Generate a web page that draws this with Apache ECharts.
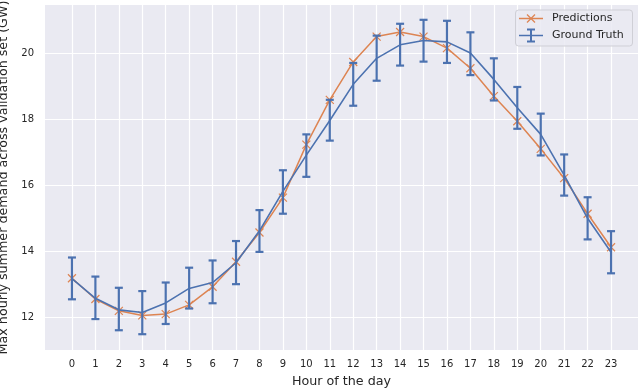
<!DOCTYPE html>
<html>
<head>
<meta charset="utf-8">
<script src="https://cdn.jsdelivr.net/npm/echarts@6/dist/echarts.min.js"></script>
<style>html,body{margin:0;padding:0;background:#fff}#c{width:640px;height:390px}</style>
</head>
<body>
<div id="c"></div>
<script>
var hours = [0,1,2,3,4,5,6,7,8,9,10,11,12,13,14,15,16,17,18,19,20,21,22,23];
var predictions = [13.18,12.55,12.19,12.05,12.09,12.37,12.92,13.68,14.57,15.63,17.24,18.6,19.75,20.52,20.66,20.52,20.17,19.56,18.71,17.95,17.11,16.22,15.14,14.12];
var groundTruth = [13.17,12.57,12.22,12.14,12.43,12.87,13.05,13.65,14.62,15.82,16.92,17.97,19.07,19.86,20.27,20.4,20.36,20.02,19.22,18.36,17.55,16.31,15.0,13.97];
var truthLower = [12.54,11.94,11.6,11.48,11.79,12.26,12.42,13.0,13.98,15.14,16.26,17.36,18.42,19.18,19.64,19.76,19.72,19.35,18.58,17.72,16.91,15.69,14.36,13.33];
var truthUpper = [13.81,13.23,12.89,12.79,13.05,13.5,13.72,14.31,15.25,16.46,17.55,18.6,19.72,20.55,20.91,21.03,21.0,20.65,19.86,18.99,18.18,16.94,15.64,14.61];
var xTicks = hours;
var yTicks = [12,14,16,18,20];

var BLUE = '#4c72b0', ORANGE = '#dd8452', TXT = '#262626', FONT = 'DejaVu Sans';
var crossPath = 'path://M0,0L10,10M10,0L0,10';

var chart = echarts.init(document.getElementById('c'), null, {renderer: 'canvas'});
var predData = hours.map(function(h, i){ return [h, predictions[i]]; });
var truthData = hours.map(function(h, i){ return [h, groundTruth[i]]; });
var errData = hours.map(function(h, i){ return [h, truthLower[i], truthUpper[i]]; });

chart.setOption({
  backgroundColor: '#ffffff',
  animation: false,
  grid: {left: 45, right: 2, top: 5, bottom: 40, show: true, backgroundColor: '#eaeaf2', borderWidth: 0,
         containLabel: false, outerBoundsMode: 'none'},
  xAxis: {
    type: 'value', min: -1.15, max: 24.15,
    name: 'Hour of the day', nameLocation: 'middle', nameGap: 25,
    nameTextStyle: {fontFamily: FONT, fontSize: 12.7, color: TXT},
    axisLine: {show: false}, axisTick: {show: false, customValues: xTicks},
    axisLabel: {customValues: xTicks, fontFamily: FONT, fontSize: 10, color: TXT, margin: 9},
    splitLine: {show: true, lineStyle: {color: '#ffffff', width: 1.2}}
  },
  yAxis: {
    type: 'value', min: 11.0, max: 21.48,
    name: 'Max hourly summer demand across validation set (GW)', nameLocation: 'middle', nameGap: 32,
    nameTextStyle: {fontFamily: FONT, fontSize: 12.7, color: TXT},
    axisLine: {show: false}, axisTick: {show: false, customValues: yTicks},
    axisLabel: {customValues: yTicks, fontFamily: FONT, fontSize: 10, color: TXT, margin: 11},
    splitLine: {show: true, lineStyle: {color: '#ffffff', width: 1.2}}
  },
  series: [
    {
      name: 'Predictions', type: 'line', data: predData, z: 2,
      lineStyle: {color: ORANGE, width: 1.5},
      symbol: crossPath, symbolSize: 8, showAllSymbol: true,
      itemStyle: {color: ORANGE, borderColor: ORANGE, borderWidth: 1.2}
    },
    {
      name: 'Ground Truth', type: 'line', data: truthData, z: 3,
      lineStyle: {color: BLUE, width: 1.6},
      symbol: 'none'
    },
    {
      name: 'err', type: 'custom', data: errData, z: 4,
      renderItem: function(params, api){
        var x = api.value(0);
        var lo = api.coord([x, api.value(1)]);
        var hi = api.coord([x, api.value(2)]);
        var cw = 4;
        var st = {stroke: BLUE, lineWidth: 2.2};
        return {type: 'group', children: [
          {type: 'line', shape: {x1: lo[0], y1: lo[1], x2: hi[0], y2: hi[1]}, style: st},
          {type: 'line', shape: {x1: lo[0]-cw, y1: lo[1], x2: lo[0]+cw, y2: lo[1]}, style: st},
          {type: 'line', shape: {x1: hi[0]-cw, y1: hi[1], x2: hi[0]+cw, y2: hi[1]}, style: st}
        ]};
      }
    }
  ],
  graphic: [
    {type: 'rect', shape: {x: 515.5, y: 10, width: 117, height: 36, r: 3}, style: {fill: 'rgba(234,234,242,0.85)', stroke: '#cfcfd6', lineWidth: 1}, z: 10},
    {type: 'line', shape: {x1: 519, y1: 18.5, x2: 543, y2: 18.5}, style: {stroke: ORANGE, lineWidth: 1.5}, z: 11},
    {type: 'polyline', shape: {points: [[527, 14.5], [535, 22.5]]}, style: {stroke: ORANGE, lineWidth: 1.2, fill: null}, z: 11},
    {type: 'polyline', shape: {points: [[535, 14.5], [527, 22.5]]}, style: {stroke: ORANGE, lineWidth: 1.2, fill: null}, z: 11},
    {type: 'text', style: {x: 552, y: 18.5, text: 'Predictions', font: '11px "DejaVu Sans"', fill: TXT, verticalAlign: 'middle'}, z: 11},
    {type: 'line', shape: {x1: 519, y1: 35.5, x2: 543, y2: 35.5}, style: {stroke: BLUE, lineWidth: 1.5}, z: 11},
    {type: 'line', shape: {x1: 531, y1: 29.5, x2: 531, y2: 41.5}, style: {stroke: BLUE, lineWidth: 2}, z: 11},
    {type: 'line', shape: {x1: 527, y1: 29.5, x2: 535, y2: 29.5}, style: {stroke: BLUE, lineWidth: 2}, z: 11},
    {type: 'line', shape: {x1: 527, y1: 41.5, x2: 535, y2: 41.5}, style: {stroke: BLUE, lineWidth: 2}, z: 11},
    {type: 'text', style: {x: 552, y: 35.5, text: 'Ground Truth', font: '11px "DejaVu Sans"', fill: TXT, verticalAlign: 'middle'}, z: 11}
  ]
});
</script>
</body>
</html>
